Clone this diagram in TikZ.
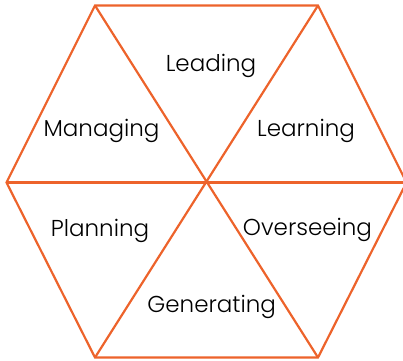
\documentclass[tikz,border=0pt]{standalone}
\usepackage{fontspec}
\setmainfont{Poppins}[UprightFont=* Light]
\definecolor{hexorange}{RGB}{237,99,43}
\begin{document}
\begin{tikzpicture}[x=1pt,y=-1pt,
  edge/.style={draw=hexorange,line width=2.2pt,line join=miter},
  lbl/.style={font=\fontsize{23}{25}\selectfont,text=black,inner sep=0pt,anchor=base}]
\useasboundingbox (0,0) rectangle (403,360);
\coordinate (C) at (206.5,182.5);
\coordinate (L) at (6.5,182.5);
\coordinate (TL) at (95,5.5);
\coordinate (TR) at (318,5.5);
\coordinate (R) at (406.5,182.5);
\coordinate (BR) at (318,357.5);
\coordinate (BL) at (95,357.5);
\draw[edge] (L) -- (TL) -- (TR) -- (R) -- (BR) -- (BL) -- cycle;
\draw[edge] (L) -- (R);
\draw[edge] (TL) -- (BR);
\draw[edge] (TR) -- (BL);
\node[lbl] (lead) at (211,71.7) {Leading};
\node[lbl] (man) at (101.5,136.7) {Managing};
\node[lbl] (learn) at (306,136.7) {Learning};
\node[lbl] (plan) at (100,236) {Planning};
\node[lbl] (over) at (307.5,235) {Overseeing};
\node[lbl] (gen) at (211.7,312.3) {Generating};
\end{tikzpicture}
\end{document}
